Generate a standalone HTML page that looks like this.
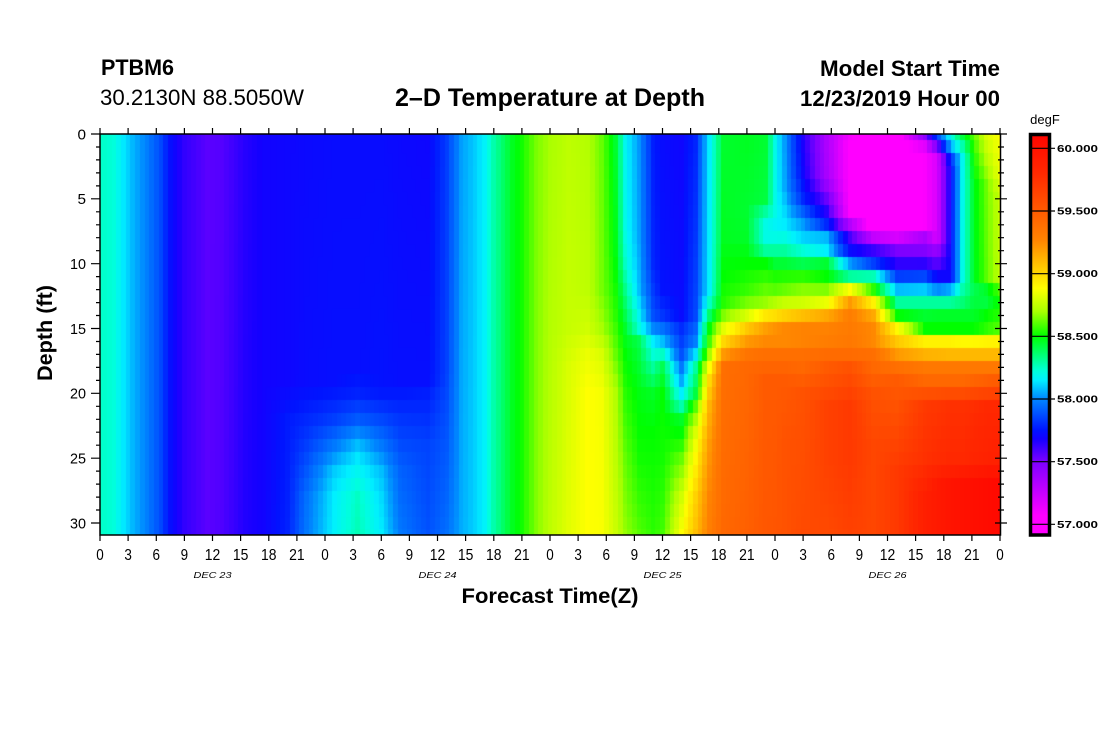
<!DOCTYPE html>
<html><head><meta charset="utf-8">
<style>
html,body{margin:0;padding:0;background:#fff;}
#wrap{position:relative;width:1100px;height:750px;overflow:hidden;background:#fff;}
#hm{position:absolute;left:100px;top:134px;width:900px;height:401px;
background:linear-gradient(to right,#00ffc8 0%,#00ffff 3%,#0080ff 6%,#0000ff 8%,#6400ff 13%,#0000ff 20%,#0000ff 37%,#00ffff 42%,#00ff00 46%,#b4ff00 52%,#00ff00 57%,#0000ff 64%,#00ffff 68%,#00ff00 72%,#ff00ff 85%,#00ff00 94%,#ffff00 100%);}
svg{position:absolute;left:0;top:0;}
text{font-family:"Liberation Sans",Arial,sans-serif;fill:#000;}
</style></head><body>
<div id="wrap">
<canvas id="hm" width="900" height="401"></canvas>
<svg width="1100" height="750" viewBox="0 0 1100 750" xmlns="http://www.w3.org/2000/svg">
<defs>
<linearGradient id="cb" x1="0" y1="0" x2="0" y2="1">
<stop offset="0" stop-color="#ff0500"/>
<stop offset="0.096" stop-color="#ff2800"/>
<stop offset="0.190" stop-color="#ff5a00"/>
<stop offset="0.262" stop-color="#ff8200"/>
<stop offset="0.331" stop-color="#ffc800"/>
<stop offset="0.384" stop-color="#ffff00"/>
<stop offset="0.441" stop-color="#aaff00"/>
<stop offset="0.503" stop-color="#00ff00"/>
<stop offset="0.591" stop-color="#00ffdc"/>
<stop offset="0.613" stop-color="#00f0ff"/>
<stop offset="0.660" stop-color="#0087ff"/>
<stop offset="0.691" stop-color="#005aff"/>
<stop offset="0.738" stop-color="#0014ff"/>
<stop offset="0.760" stop-color="#1400ff"/>
<stop offset="0.817" stop-color="#7d00ff"/>
<stop offset="0.879" stop-color="#b900ff"/>
<stop offset="0.951" stop-color="#ff00ff"/>
<stop offset="1" stop-color="#ff00ff"/>
</linearGradient>
</defs>

<!-- header -->
<text x="101" y="75" font-size="22" font-weight="bold" textLength="73" lengthAdjust="spacingAndGlyphs">PTBM6</text>
<text x="100" y="105" font-size="22" textLength="204" lengthAdjust="spacingAndGlyphs">30.2130N 88.5050W</text>
<text x="550" y="106" font-size="25" font-weight="bold" text-anchor="middle" textLength="310" lengthAdjust="spacingAndGlyphs">2–D Temperature at Depth</text>
<text x="1000" y="76" font-size="22" font-weight="bold" text-anchor="end" textLength="180" lengthAdjust="spacingAndGlyphs">Model Start Time</text>
<text x="1000" y="106" font-size="22" font-weight="bold" text-anchor="end" textLength="200" lengthAdjust="spacingAndGlyphs">12/23/2019 Hour 00</text>

<!-- plot frame -->
<rect x="100" y="134" width="900.5" height="401" fill="none" stroke="#000" stroke-width="1.5"/>

<!-- x ticks -->
<path stroke="#000" stroke-width="1.2" fill="none" d="M100 128V134M128.1 128V134M156.3 128V134M184.4 128V134M212.5 128V134M240.6 128V134M268.8 128V134M296.9 128V134M325 128V134M353.1 128V134M381.3 128V134M409.4 128V134M437.5 128V134M465.6 128V134M493.8 128V134M521.9 128V134M550 128V134M578.1 128V134M606.3 128V134M634.4 128V134M662.5 128V134M690.6 128V134M718.8 128V134M746.9 128V134M775 128V134M803.1 128V134M831.3 128V134M859.4 128V134M887.5 128V134M915.6 128V134M943.8 128V134M971.9 128V134M1000 128V134
M100 535V541M128.1 535V541M156.3 535V541M184.4 535V541M212.5 535V541M240.6 535V541M268.8 535V541M296.9 535V541M325 535V541M353.1 535V541M381.3 535V541M409.4 535V541M437.5 535V541M465.6 535V541M493.8 535V541M521.9 535V541M550 535V541M578.1 535V541M606.3 535V541M634.4 535V541M662.5 535V541M690.6 535V541M718.8 535V541M746.9 535V541M775 535V541M803.1 535V541M831.3 535V541M859.4 535V541M887.5 535V541M915.6 535V541M943.8 535V541M971.9 535V541M1000 535V541"/>

<!-- y ticks left -->
<path stroke="#000" stroke-width="1.2" fill="none" d="M91 134H100M96 147H100M96 159.9H100M96 172.9H100M96 185.9H100M91 198.8H100M96 211.8H100M96 224.8H100M96 237.7H100M96 250.7H100M91 263.7H100M96 276.6H100M96 289.6H100M96 302.6H100M96 315.5H100M91 328.5H100M96 341.5H100M96 354.4H100M96 367.4H100M96 380.4H100M91 393.3H100M96 406.3H100M96 419.3H100M96 432.2H100M96 445.2H100M91 458.2H100M96 471.1H100M96 484.1H100M96 497.1H100M96 510H100M91 523H100"/>
<!-- y ticks right -->
<path stroke="#000" stroke-width="1.2" fill="none" d="M995 134H1007M998 147H1004M998 159.9H1004M998 172.9H1004M998 185.9H1004M995 198.8H1007M998 211.8H1004M998 224.8H1004M998 237.7H1004M998 250.7H1004M995 263.7H1007M998 276.6H1004M998 289.6H1004M998 302.6H1004M998 315.5H1004M995 328.5H1007M998 341.5H1004M998 354.4H1004M998 367.4H1004M998 380.4H1004M995 393.3H1007M998 406.3H1004M998 419.3H1004M998 432.2H1004M998 445.2H1004M995 458.2H1007M998 471.1H1004M998 484.1H1004M998 497.1H1004M998 510H1004M995 523H1007"/>

<!-- y labels -->
<g font-size="15" text-anchor="end">
<text x="86" y="139.3" textLength="8.5" lengthAdjust="spacingAndGlyphs">0</text>
<text x="86" y="204.1" textLength="8.5" lengthAdjust="spacingAndGlyphs">5</text>
<text x="86" y="269" textLength="16" lengthAdjust="spacingAndGlyphs">10</text>
<text x="86" y="333.8" textLength="16" lengthAdjust="spacingAndGlyphs">15</text>
<text x="86" y="398.6" textLength="16" lengthAdjust="spacingAndGlyphs">20</text>
<text x="86" y="463.5" textLength="16" lengthAdjust="spacingAndGlyphs">25</text>
<text x="86" y="528.3" textLength="16" lengthAdjust="spacingAndGlyphs">30</text>
</g>
<text transform="translate(52,333) rotate(-90)" font-size="21" font-weight="bold" text-anchor="middle" textLength="96" lengthAdjust="spacingAndGlyphs">Depth (ft)</text>

<!-- x labels -->
<g font-size="16" text-anchor="middle">
<text x="100" y="560" textLength="7.5" lengthAdjust="spacingAndGlyphs">0</text>
<text x="128.1" y="560" textLength="7.5" lengthAdjust="spacingAndGlyphs">3</text>
<text x="156.3" y="560" textLength="7.5" lengthAdjust="spacingAndGlyphs">6</text>
<text x="184.4" y="560" textLength="7.5" lengthAdjust="spacingAndGlyphs">9</text>
<text x="212.5" y="560" textLength="15.5" lengthAdjust="spacingAndGlyphs">12</text>
<text x="240.6" y="560" textLength="15.5" lengthAdjust="spacingAndGlyphs">15</text>
<text x="268.8" y="560" textLength="15.5" lengthAdjust="spacingAndGlyphs">18</text>
<text x="296.9" y="560" textLength="15.5" lengthAdjust="spacingAndGlyphs">21</text>
<text x="325" y="560" textLength="7.5" lengthAdjust="spacingAndGlyphs">0</text>
<text x="353.1" y="560" textLength="7.5" lengthAdjust="spacingAndGlyphs">3</text>
<text x="381.3" y="560" textLength="7.5" lengthAdjust="spacingAndGlyphs">6</text>
<text x="409.4" y="560" textLength="7.5" lengthAdjust="spacingAndGlyphs">9</text>
<text x="437.5" y="560" textLength="15.5" lengthAdjust="spacingAndGlyphs">12</text>
<text x="465.6" y="560" textLength="15.5" lengthAdjust="spacingAndGlyphs">15</text>
<text x="493.8" y="560" textLength="15.5" lengthAdjust="spacingAndGlyphs">18</text>
<text x="521.9" y="560" textLength="15.5" lengthAdjust="spacingAndGlyphs">21</text>
<text x="550" y="560" textLength="7.5" lengthAdjust="spacingAndGlyphs">0</text>
<text x="578.1" y="560" textLength="7.5" lengthAdjust="spacingAndGlyphs">3</text>
<text x="606.3" y="560" textLength="7.5" lengthAdjust="spacingAndGlyphs">6</text>
<text x="634.4" y="560" textLength="7.5" lengthAdjust="spacingAndGlyphs">9</text>
<text x="662.5" y="560" textLength="15.5" lengthAdjust="spacingAndGlyphs">12</text>
<text x="690.6" y="560" textLength="15.5" lengthAdjust="spacingAndGlyphs">15</text>
<text x="718.8" y="560" textLength="15.5" lengthAdjust="spacingAndGlyphs">18</text>
<text x="746.9" y="560" textLength="15.5" lengthAdjust="spacingAndGlyphs">21</text>
<text x="775" y="560" textLength="7.5" lengthAdjust="spacingAndGlyphs">0</text>
<text x="803.1" y="560" textLength="7.5" lengthAdjust="spacingAndGlyphs">3</text>
<text x="831.3" y="560" textLength="7.5" lengthAdjust="spacingAndGlyphs">6</text>
<text x="859.4" y="560" textLength="7.5" lengthAdjust="spacingAndGlyphs">9</text>
<text x="887.5" y="560" textLength="15.5" lengthAdjust="spacingAndGlyphs">12</text>
<text x="915.6" y="560" textLength="15.5" lengthAdjust="spacingAndGlyphs">15</text>
<text x="943.8" y="560" textLength="15.5" lengthAdjust="spacingAndGlyphs">18</text>
<text x="971.9" y="560" textLength="15.5" lengthAdjust="spacingAndGlyphs">21</text>
<text x="1000" y="560" textLength="7.5" lengthAdjust="spacingAndGlyphs">0</text>
</g>
<g font-size="8.5" font-style="italic" text-anchor="middle">
<text x="212.5" y="578" textLength="38" lengthAdjust="spacingAndGlyphs">DEC 23</text>
<text x="437.5" y="578" textLength="38" lengthAdjust="spacingAndGlyphs">DEC 24</text>
<text x="662.5" y="578" textLength="38" lengthAdjust="spacingAndGlyphs">DEC 25</text>
<text x="887.5" y="578" textLength="38" lengthAdjust="spacingAndGlyphs">DEC 26</text>
</g>
<text x="550" y="603" font-size="21" font-weight="bold" text-anchor="middle" textLength="177" lengthAdjust="spacingAndGlyphs">Forecast Time(Z)</text>

<!-- colorbar -->
<text x="1045" y="124" font-size="13" text-anchor="middle">degF</text>
<rect x="1030.5" y="134.5" width="19" height="400.5" fill="url(#cb)" stroke="#000" stroke-width="3.5"/>
<path stroke="#000" stroke-width="1.2" fill="none" d="M1031 148.3H1055M1031 211H1055M1031 273.7H1055M1031 336.3H1055M1031 399H1055M1031 461.7H1055M1031 524.3H1055"/>
<g font-size="10" style="font-family:'Liberation Serif',serif" font-weight="bold">
<text x="1057" y="151.8" textLength="41" lengthAdjust="spacingAndGlyphs">60.000</text>
<text x="1057" y="214.5" textLength="41" lengthAdjust="spacingAndGlyphs">59.500</text>
<text x="1057" y="277.2" textLength="41" lengthAdjust="spacingAndGlyphs">59.000</text>
<text x="1057" y="339.8" textLength="41" lengthAdjust="spacingAndGlyphs">58.500</text>
<text x="1057" y="402.5" textLength="41" lengthAdjust="spacingAndGlyphs">58.000</text>
<text x="1057" y="465.2" textLength="41" lengthAdjust="spacingAndGlyphs">57.500</text>
<text x="1057" y="527.8" textLength="41" lengthAdjust="spacingAndGlyphs">57.000</text>
</g>
</svg>
</div>
<script>
(function(){
var S=[[56.90,255,0,255],[57.07,255,0,255],[57.30,185,0,255],[57.50,125,0,255],[57.68,20,0,255],[57.75,0,20,255],[57.90,0,90,255],[58.00,0,135,255],[58.15,0,240,255],[58.22,0,255,220],[58.50,0,255,0],[58.70,170,255,0],[58.88,255,255,0],[59.05,255,200,0],[59.27,255,130,0],[59.50,255,90,0],[59.80,255,40,0],[60.10,255,5,0]];
function cmap(v){
 if(v<=S[0][0])return [S[0][1],S[0][2],S[0][3]];
 for(var i=1;i<S.length;i++){if(v<=S[i][0]){var a=S[i-1],b=S[i],t=(v-a[0])/(b[0]-a[0]);
  return [Math.round(a[1]+(b[1]-a[1])*t),Math.round(a[2]+(b[2]-a[2])*t),Math.round(a[3]+(b[3]-a[3])*t)];}}
 var l=S[S.length-1];return [l[1],l[2],l[3]];
}
var C=[
[0,[[0,58.25],[31,58.25]]],
[1.5,[[0,58.22],[31,58.22]]],
[2.5,[[0,58.14],[31,58.14]]],
[3.5,[[0,58.07],[31,58.07]]],
[5,[[0,57.98],[31,57.98]]],
[6.5,[[0,57.86],[31,57.86]]],
[7.5,[[0,57.73],[31,57.73]]],
[9,[[0,57.63],[31,57.63]]],
[11.5,[[0,57.56],[31,57.56]]],
[13,[[0,57.57],[31,57.58]]],
[15.5,[[0,57.65],[31,57.66]]],
[17.5,[[0,57.69],[31,57.69]]],
[20,[[0,57.70],[19,57.70],[22,57.76],[31,57.78]]],
[22,[[0,57.71],[19,57.72],[20,57.74],[22,57.79],[24,57.84],[28,57.95],[31,57.97]]],
[25,[[0,57.72],[19,57.73],[20,57.76],[22,57.84],[24,57.97],[26,58.10],[28,58.15],[31,58.16]]],
[27.5,[[0,57.72],[18,57.73],[20,57.78],[22,57.9],[23,58.0],[24.5,58.12],[26,58.18],[28,58.25],[31,58.27]]],
[30,[[0,57.72],[19,57.74],[20,57.76],[22,57.86],[24,57.97],[26,58.08],[28,58.12],[31,58.15]]],
[32,[[0,57.71],[19,57.73],[20,57.76],[22,57.82],[26,57.92],[31,57.97]]],
[35,[[0,57.70],[19,57.73],[20,57.77],[24,57.85],[31,57.88]]],
[37,[[0,57.84],[18,57.85],[31,57.95]]],
[38.5,[[0,58.03],[31,58.05]]],
[40,[[0,58.10],[31,58.11]]],
[41,[[0,58.16],[31,58.16]]],
[42,[[0,58.28],[31,58.28]]],
[44,[[0,58.46],[31,58.46]]],
[45,[[0,58.52],[31,58.52]]],
[46.5,[[0,58.64],[31,58.65]]],
[48,[[0,58.70],[31,58.74]]],
[50,[[0,58.74],[15,58.76],[18,58.80],[31,58.82]]],
[52,[[0,58.72],[12,58.74],[15,58.78],[17,58.84],[20,58.88],[31,58.88]]],
[53.5,[[0,58.62],[12,58.64],[15,58.7],[17,58.8],[20,58.86],[31,58.87]]],
[55,[[0,58.44],[9,58.48],[14,58.55],[17,58.62],[20,58.72],[31,58.77]]],
[56,[[0,58.18],[7,58.2],[10,58.25],[15,58.45],[17,58.5],[20,58.55],[25,58.62],[31,58.68]]],
[57.5,[[0,58.02],[8,58.04],[12,58.08],[15,58.22],[16,58.4],[20,58.48],[25,58.52],[31,58.6]]],
[59,[[0,57.77],[10,57.79],[14,57.88],[15,58.0],[16,58.15],[18,58.3],[20,58.45],[23,58.5],[31,58.55]]],
[60,[[0,57.72],[12,57.74],[14,57.82],[15,57.95],[16,58.08],[17,58.25],[18,58.4],[20,58.5],[25,58.52],[31,58.58]]],
[62,[[0,57.70],[14,57.72],[15,57.8],[16,57.84],[17,57.88],[18,57.97],[19,58.05],[20,58.15],[21,58.28],[22,58.45],[23.5,58.52],[25,58.62],[28,58.78],[31,58.88]]],
[63.5,[[0,57.78],[8,57.82],[14,57.86],[15,57.92],[16,57.98],[17,58.13],[18,58.3],[20,58.42],[21,58.6],[23,58.8],[25,58.9],[28,59.02],[31,59.08]]],
[65,[[0,58.15],[12,58.16],[13,58.25],[14,58.37],[15,58.5],[16,58.58],[17,58.7],[18,58.88],[19,59.0],[21,59.12],[24,59.2],[28,59.27],[31,59.3]]],
[66.5,[[0,58.44],[8,58.46],[11,58.5],[13,58.54],[14,58.65],[15,58.82],[16,59.0],[17,59.2],[18,59.38],[31,59.42]]],
[69,[[0,58.46],[6,58.44],[8,58.45],[10,58.5],[12,58.56],[13,58.64],[14,58.8],[15,59.05],[16,59.2],[17,59.35],[18,59.42],[31,59.47]]],
[71,[[0,58.44],[5,58.42],[6,58.3],[7.5,58.15],[9,58.3],[10,58.5],[11.5,58.58],[13,58.68],[14,58.95],[15,59.18],[16,59.25],[17,59.38],[19,59.5],[31,59.52]]],
[72,[[0,58.2],[6,58.2],[7.5,58.15],[9,58.3],[10.5,58.5],[12,58.6],[13,58.72],[14,58.98],[15,59.22],[16,59.25],[17,59.38],[19,59.5],[31,59.53]]],
[73,[[0,58.03],[4,58.05],[6,58.12],[7.5,58.16],[9,58.3],[10.5,58.5],[12,58.62],[13,58.76],[14,59.02],[15,59.25],[16,59.25],[17,59.38],[19,59.5],[24,59.55],[31,59.55]]],
[75,[[0,57.66],[3,57.7],[5,57.79],[7,58.03],[8.5,58.15],[9.5,58.3],[10.5,58.5],[11.5,58.6],[13,58.78],[14,59.08],[15,59.27],[16,59.27],[17,59.38],[18,59.42],[20,59.55],[31,59.6]]],
[77.5,[[0,57.33],[3.5,57.36],[5.5,57.59],[6.5,57.7],[7.5,57.88],[8,58.07],[9,58.15],[10,58.44],[11,58.5],[12,58.65],[13,58.84],[14,59.15],[15,59.27],[16,59.3],[17,59.4],[18,59.5],[21,59.65],[25,59.65],[31,59.6]]],
[80,[[0,57.1],[1,57.05],[6,57.05],[7,57.32],[8,57.6],[9,57.72],[10,58.03],[11,58.3],[11.5,58.6],[12,58.88],[13,59.2],[14,59.3],[16,59.33],[17,59.4],[18,59.55],[21,59.7],[25,59.7],[31,59.65]]],
[82.5,[[0,57.0],[7,57.0],[8,57.27],[9,57.62],[10,57.84],[11,58.27],[12,58.55],[13,58.92],[14,59.15],[15,59.25],[16,59.25],[17,59.38],[18,59.42],[20,59.55],[24,59.62],[31,59.62]]],
[85,[[0,57.0],[7,57.0],[8,57.2],[9,57.5],[10.5,57.7],[11.5,57.97],[12.3,58.14],[13,58.3],[14,58.5],[15,58.9],[16,59.05],[17,59.2],[18,59.38],[19,59.5],[21,59.55],[26,59.7],[31,59.7]]],
[88,[[0,57.45],[0.5,57.25],[1.5,57.08],[7,57.08],[8,57.35],[9.5,57.55],[10.5,57.72],[11.5,58.0],[13,58.3],[14,58.44],[15,58.5],[16,58.92],[17,59.12],[18,59.33],[19,59.42],[21,59.7],[25,59.75],[28,59.88],[31,59.88]]],
[89.3,[[0,57.85],[1,57.5],[2,57.2],[8,57.2],[9,57.4],[10,57.55],[11,57.7],[12,58.0],[13,58.3],[14,58.45],[15,58.5],[16,58.92],[17,59.11],[18,59.33],[19,59.42],[21,59.72],[25,59.78],[27,59.92],[31,59.92]]],
[90.7,[[0,58.18],[1,58.05],[2,57.78],[3,57.7],[11,57.7],[12,58.05],[13,58.3],[14,58.45],[15,58.5],[16,58.92],[17,59.1],[18,59.33],[19,59.42],[21,59.75],[25,59.8],[27,59.97],[31,59.97]]],
[92,[[0,58.42],[1,58.28],[2,58.18],[11,58.2],[12,58.28],[13,58.35],[14,58.45],[15,58.5],[16,58.9],[17,59.1],[18,59.33],[19,59.42],[21,59.75],[25,59.8],[27,60.0],[31,60.0]]],
[93.2,[[0,58.6],[2,58.52],[4,58.46],[11,58.45],[12,58.4],[14,58.45],[15,58.5],[16,58.9],[17,59.1],[18,59.33],[19,59.45],[21,59.77],[25,59.83],[27,60.02],[31,60.02]]],
[94.5,[[0,58.8],[2,58.72],[4,58.62],[11,58.6],[12,58.45],[13,58.42],[14,58.5],[15,58.55],[16,58.91],[17,59.1],[18,59.33],[19,59.47],[21,59.8],[25,59.85],[27,60.04],[31,60.04]]],
[96,[[0,58.88],[3,58.85],[5,58.77],[11,58.75],[12,58.6],[13,58.52],[14,58.55],[15,58.6],[16,58.92],[17,59.1],[18,59.33],[19,59.5],[21,59.8],[25,59.87],[27,60.06],[31,60.06]]]
];
function colAt(c,d){var p=c[1];if(d<=p[0][0])return p[0][1];
 for(var i=1;i<p.length;i++){if(d<=p[i][0]){var a=p[i-1],b=p[i];return a[1]+(b[1]-a[1])*(d-a[0])/(b[0]-a[0]);}}
 return p[p.length-1][1];}
function T(h,d){var i=0;while(i<C.length-2&&C[i+1][0]<h)i++;
 var c0=C[i],c1=C[i+1],t=(h-c0[0])/(c1[0]-c0[0]);if(t<0)t=0;if(t>1)t=1;
 return colAt(c0,d)*(1-t)+colAt(c1,d)*t;}
var cv=document.getElementById('hm');if(!cv||!cv.getContext)return;
var ctx=cv.getContext('2d');if(!ctx)return;
var W=900,H=401,px=9.375,py=12.967;
for(var j=0;j<=192;j++){
 var h=j*0.5;var x0=Math.round((h-0.25)*px),x1=Math.round((h+0.25)*px);
 if(x0<0)x0=0;if(x1>W)x1=W;if(x1<=x0)continue;
 for(var k=0;k<=31;k++){
  var y0=Math.round((k-0.5)*py),y1=Math.round((k+0.5)*py);
  if(y0<0)y0=0;if(y1>H)y1=H;if(y1<=y0)continue;
  var c=cmap(T(h,k));
  ctx.fillStyle='rgb('+c[0]+','+c[1]+','+c[2]+')';
  ctx.fillRect(x0,y0,x1-x0,y1-y0);
 }
}
})();
</script>
</body></html>
